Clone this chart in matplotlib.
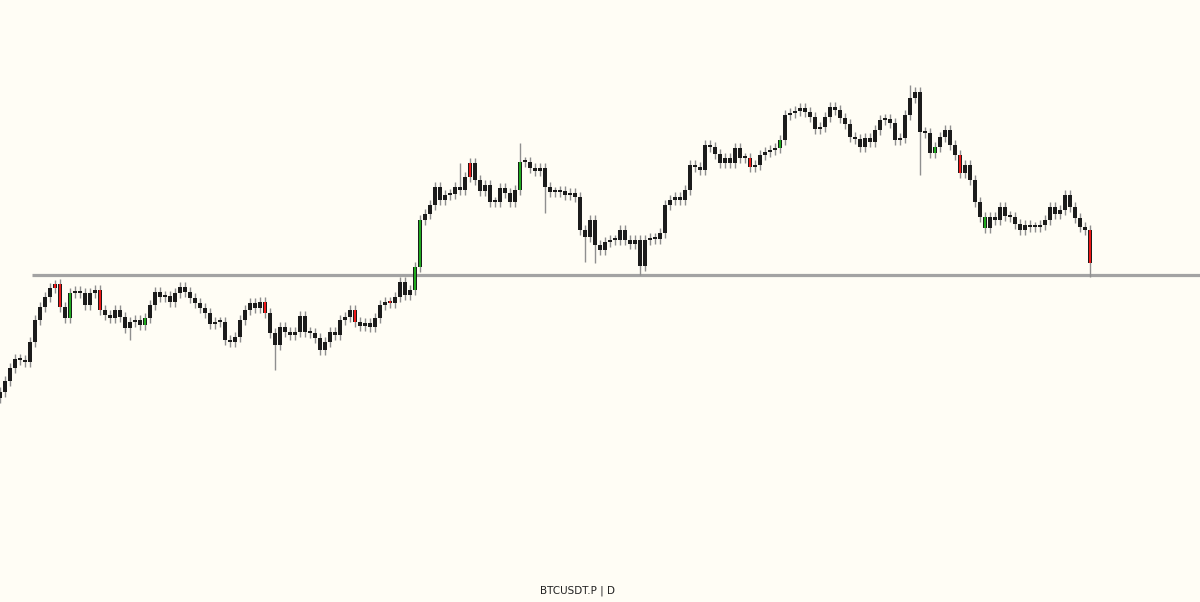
import matplotlib
matplotlib.use('Agg')
import matplotlib.pyplot as plt

# 背景与颜色
BG = '#fffdf5'
BODY = '#1c1c1c'
WICK = '#8f8f8f'
UP = '#1faa1f'
DOWN = '#f01818'
LEVEL_COLOR = '#a3a3a3'

# 日线收盘价
closes = [
    45420, 48060, 51180, 53340, 53100, 52620, 57420, 62700, 65820, 68220,
    70380, 71340, 65820, 63180, 69180, 69660, 69180, 66300, 69180, 69900,
    65100, 63900, 63180, 65100, 63420, 60780, 62220, 62700, 61500, 63180,
    66300, 69420, 68220, 68460, 67020, 69180, 70620, 69420, 67980, 66780,
    65580, 64380, 61740, 62220, 62220, 57900, 57420, 58620, 62700, 65100,
    66780, 65580, 67020, 64380, 59580, 56700, 61020, 59820, 59100, 59820,
    63660, 59820, 59580, 58380, 55500, 57420, 59820, 59100, 62700, 63420,
    65100, 62220, 61260, 61980, 61020, 63180, 66300, 67020, 66780, 68220,
    71820, 68700, 69900, 75420, 86700, 88140, 90300, 94620, 91500, 92700,
    92940, 94620, 93900, 97020, 100380, 96300, 93660, 95100, 91020, 91020,
    94380, 93180, 91020, 93900, 100620, 100620, 99180, 98460, 99180, 94620,
    93420, 93420, 93660, 92700, 93180, 92220, 84300, 82620, 86700, 80700,
    79500, 81420, 81900, 81900, 84300, 81900, 80940, 81900, 75660, 81900,
    82380, 82140, 83580, 90300, 91500, 92220, 91500, 93900, 99900, 99420,
    98700, 104700, 104220, 102540, 100380, 101580, 100380, 103980, 101580, 101580,
    99420, 99900, 102300, 103020, 103500, 103980, 105900, 111900, 112380, 112860,
    113580, 112620, 111420, 108540, 109020, 111420, 113820, 113100, 111180, 109740,
    106620, 106140, 104220, 106380, 105420, 108300, 110700, 110940, 109980, 105900,
    106380, 111900, 115980, 117420, 107820, 107580, 102780, 104220, 106620, 108300,
    104700, 102300, 97980, 99900, 96300, 91020, 87420, 84780, 87420, 86700,
    89820, 87660, 87420, 85740, 84300, 85500, 85020, 85020, 85500, 86700,
    89820, 88140, 89100, 92700, 89820, 87180, 85020, 84300, 76380,
]
first_open = 44000

# 较长的影线
long_highs = {11: 72300, 92: 100380, 104: 105180, 182: 119100}
long_lows = {26: 57900, 55: 50700, 109: 88380, 117: 76620, 119: 76380,
             128: 73500, 184: 97500, 218: 73020}

# 着色K线
green_idx = [14, 29, 83, 84, 104, 156, 187, 197]
red_idx = [11, 12, 20, 53, 71, 78, 94, 150, 192, 218]

level = 73500
label = 'BTCUSDT.P | D'

fig = plt.figure(figsize=(12, 6.02), dpi=100, facecolor=BG)
ax = fig.add_axes([0, 0, 1, 1])
ax.set_facecolor(BG)

opens = [first_open] + closes[:-1]
pad = 1100
for i, (o, c) in enumerate(zip(opens, closes)):
    top = max(o, c)
    bot = min(o, c)
    hi = long_highs.get(i, top + pad)
    lo = long_lows.get(i, bot - pad)
    ax.vlines(i, lo, hi, color=WICK, linewidth=1.0, zorder=2)
    h = max(top - bot, 480)
    ax.bar(i, h, bottom=bot, width=0.72, color=BODY, edgecolor='none', zorder=3)
    # 彩色K线只在实体中间画一条细线
    if i in green_idx:
        ax.bar(i, h, bottom=bot, width=0.28, color=UP, edgecolor='none', zorder=4)
    elif i in red_idx:
        ax.bar(i, h, bottom=bot, width=0.28, color=DOWN, edgecolor='none', zorder=4)

ax.hlines(level, 6.4, 240, color=LEVEL_COLOR, linewidth=2.3, zorder=1)

ax.set_xlim(0, 240)
ax.set_ylim(-4980, 139500)
ax.axis('off')

fig.text(0.481, 0.018, label, ha='center', va='center', fontsize=7.5, color='#222222')

fig.savefig('out.png', dpi=100, facecolor=BG)
